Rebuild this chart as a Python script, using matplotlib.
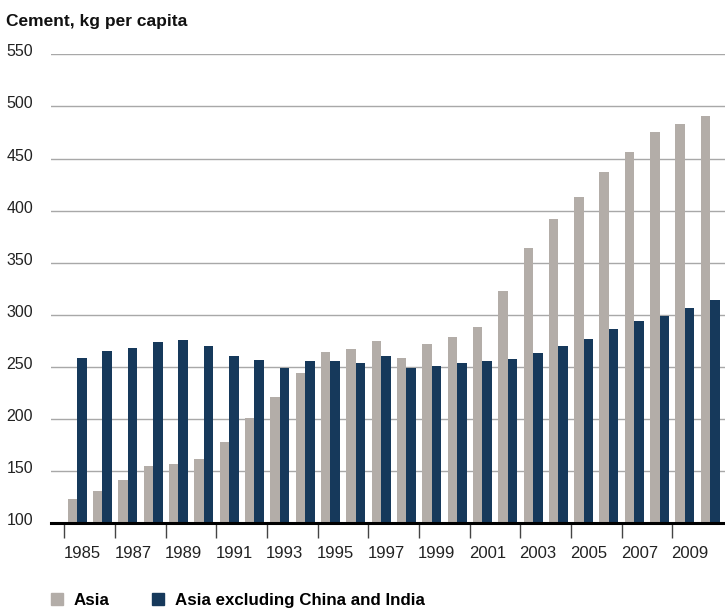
import numpy as np
import matplotlib.pyplot as plt
from matplotlib.patches import Patch
from matplotlib.transforms import ScaledTranslation

plt.rcParams['font.family'] = ['Liberation Sans', 'DejaVu Sans']

years = np.arange(1985, 2011)
asia = [123, 131, 142, 155, 157, 162, 178, 201, 221, 244, 264, 267,
        275, 259, 272, 279, 288, 323, 364, 392, 413, 437, 456, 475, 483, 491]
asia_ex = [259, 265, 268, 274, 276, 270, 261, 257, 249, 256, 256, 254,
           261, 249, 251, 254, 256, 258, 263, 270, 277, 286, 294, 299, 307, 314]
ytick_vals = [100, 150, 200, 250, 300, 350, 400, 450, 500, 550]

grey = '#b3ada8'
navy = '#16395b'

fig = plt.figure(figsize=(7.25, 6.11), dpi=100)
ax = fig.add_axes([0.07, 0.1435, 0.93, 0.7676])

w = 0.375
ax.bar(years - w / 2, asia, width=w, color=grey, zorder=2)
ax.bar(years + w / 2, asia_ex, width=w, color=navy, zorder=2)

ax.set_xlim(1983.96, 2010.58)
ax.set_ylim(100, 550)

# horizontal grid
ax.set_yticks(ytick_vals)
ax.yaxis.grid(True, color='#a8a8a8', linewidth=1.0, zorder=0)
ax.tick_params(axis='y', length=0, pad=32, labelsize=11.5, labelcolor='#222222')
for lab in ax.get_yticklabels():
    lab.set_horizontalalignment('left')
    lab.set_transform(lab.get_transform() + ScaledTranslation(0, 4 / 100, fig.dpi_scale_trans))

# tick marks between groups, labels under every other year
ax.set_xticks(np.arange(1984.5, 2010, 2))
ax.set_xticklabels([])
ax.tick_params(axis='x', which='major', length=11, width=1, color='#444444')
ax.set_xticks(years[::2] + 0.2, minor=True)
ax.set_xticklabels([str(y) for y in years[::2]], minor=True)
ax.tick_params(axis='x', which='minor', length=0, pad=16, labelsize=12, labelcolor='#222222')

for s in ['top', 'right', 'left']:
    ax.spines[s].set_visible(False)
ax.spines['bottom'].set_linewidth(2.2)
ax.spines['bottom'].set_color('black')
ax.spines['bottom'].set_zorder(3)

fig.text(0.008, 0.977, 'Cement, kg per capita', fontsize=12.5, fontweight='bold',
         va='top', ha='left', color='#111111')

handles = [Patch(color=grey, label='Asia'),
           Patch(color=navy, label='Asia excluding China and India')]
fig.legend(handles=handles, loc='center left', bbox_to_anchor=(0.0703, 0.018), ncol=2,
           frameon=False, borderpad=0, borderaxespad=0,
           handlelength=0.71, handleheight=0.71, handletextpad=0.65,
           columnspacing=2.5, prop={'weight': 'bold', 'size': 12.2})

fig.savefig('out.png', dpi=100)
